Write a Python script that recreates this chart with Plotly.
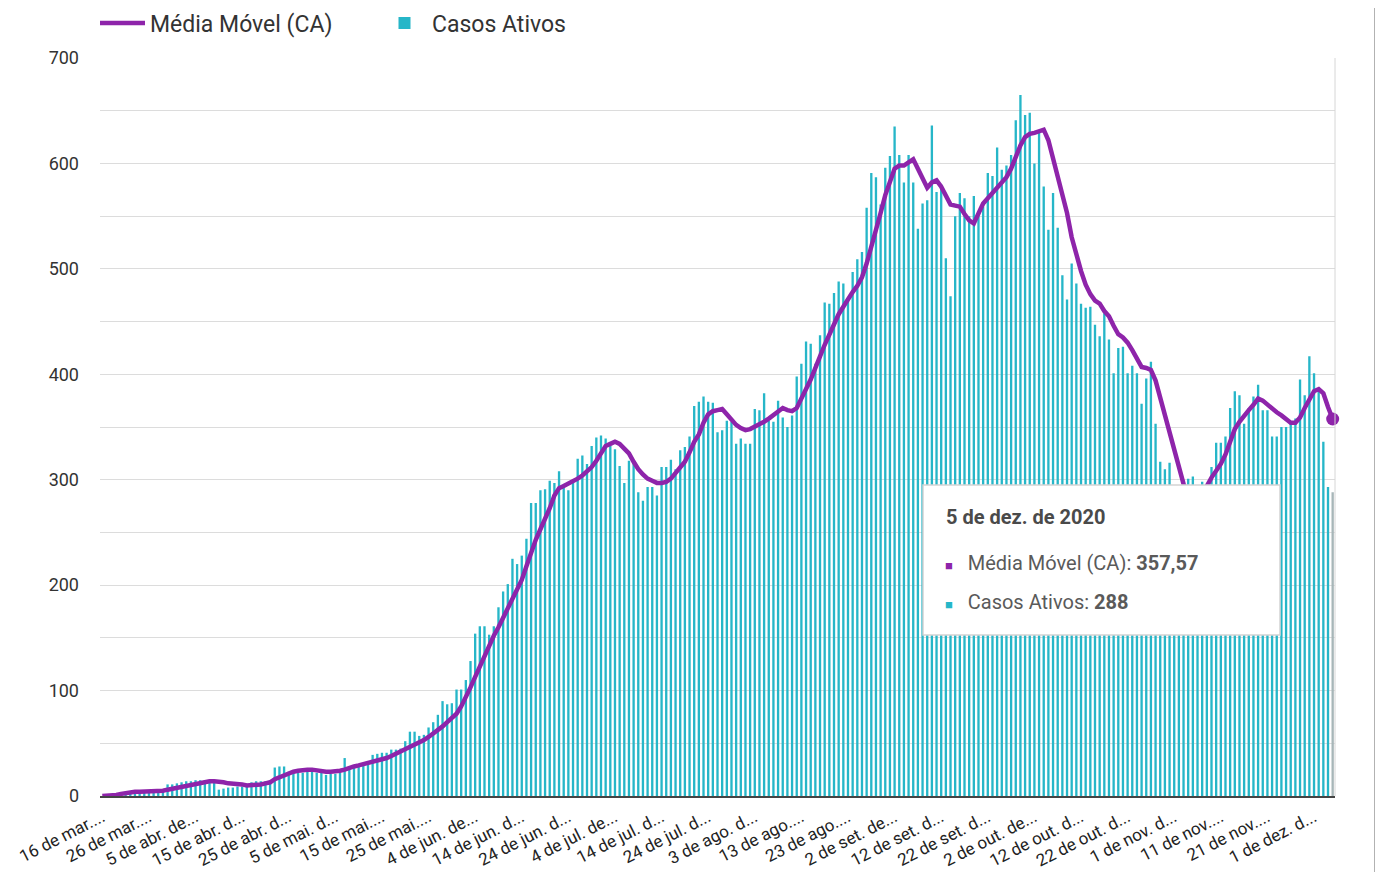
import pandas as pd
import plotly.graph_objects as go

# ---------------- data ----------------
casos_ativos = [
    0, 0, 0, 0, 2,
    4, 4, 5, 5, 5, 5, 5, 6, 6,
    11, 11, 12, 13, 14,
    14, 15, 15, 15, 15, 14,
    6,
    7, 8, 8, 9, 9, 10,
    13, 14, 14, 14, 15,
    27, 28, 28,
    23, 23, 22, 22, 23, 23, 22, 22,
    20, 21, 21, 22,
    36,
    28, 28, 29, 30, 31,
    39, 40, 41, 41,
    44, 44, 45,
    52,
    61, 61,
    57, 58,
    65, 70, 77, 90, 87, 88, 101, 101, 110, 128,
    154, 161, 161, 153, 161, 179, 194, 201, 225, 220,
    228, 244, 278, 278, 290, 291, 299, 297, 308, 296,
    290, 299, 320, 323, 315, 332, 340, 342, 339, 332,
    329, 313, 297, 318, 318, 288, 280, 293, 293, 285,
    312, 312, 319, 310, 328, 331, 341, 370, 374, 379,
    374, 373, 345, 347, 356, 355, 334, 339, 334, 334,
    367, 366, 382, 356, 355, 375, 359, 350, 361, 398,
    410, 431, 429, 410, 437, 468, 467, 477, 488, 486,
    471, 497, 509, 516, 558, 591, 587, 561, 596, 607,
    635, 608, 582, 608, 582, 538, 562, 565, 636, 573,
    580, 510, 474, 550, 572, 567, 550, 569, 550, 559,
    591, 588, 615, 594, 598, 608, 641, 665, 646, 648,
    600, 629, 578, 537, 572, 539, 494, 471, 505, 486,
    467, 463, 464, 447, 436, 458, 433, 401, 425, 426,
    401, 408, 401, 372, 396, 412, 353, 317, 310, 316,
    290, 280, 275, 301, 303, 280, 298, 290, 312, 335,
    335, 341, 368, 384, 380, 353, 368, 379, 390, 366,
    366, 341, 341, 350, 350, 353, 358, 395, 380, 417,
    401, 385, 336, 293, 288,
]

media_movel = [
    0, 0, 0, 1, 2,
    3, 3, 4, 4, 4, 4, 5, 5, 5,
    6, 7, 8, 9, 10, 11, 12,
    13, 14, 14, 14, 14,
    13, 12, 12, 11, 11, 10,
    10, 11, 11, 12, 13,
    16, 18, 20, 22, 23, 24, 25, 25,
    25, 24, 24, 23, 23, 23, 24,
    25, 27, 28, 29, 30, 32,
    33, 34, 35, 36, 38, 40, 42,
    44, 46, 48,
    50, 53,
    56, 59, 62, 66, 70, 74, 78, 85, 93, 103,
    113, 123, 133, 143, 152, 160, 169, 178, 187, 196,
    205, 218, 231, 243, 253, 262, 273, 285, 292, 294,
    296, 298, 301, 304, 308, 312, 318, 326, 332, 334,
    336, 334, 330, 325, 317, 310, 305, 301, 299, 297,
    297, 298, 301, 306, 311, 317, 326, 336, 343, 354,
    362, 365, 366, 367, 362, 357, 352, 349, 347, 348,
    350, 352, 355, 358, 361, 365, 368, 366, 365, 368,
    376, 386, 395, 405, 417, 428, 438, 447, 457, 464,
    472, 478, 484, 492, 505, 520, 535, 553, 570, 583,
    595, 598, 598, 601, 604, 595, 585, 577, 582, 584,
    578, 569, 561, 560, 559, 552, 546, 543, 552, 562,
    567, 572, 577, 582, 587, 595, 606, 617, 625, 628,
    629, 631, 632, 622, 604, 586, 568, 553, 530, 512,
    498, 485, 476, 470, 467, 460, 455, 446, 438, 435,
    430, 423, 415, 407, 406, 404, 394, 378, 362, 347,
    330, 312, 296, 286, 280, 281, 287, 294, 302, 309,
    315, 324, 337, 348, 355, 361, 366, 371, 377, 375,
    371, 368, 364, 361, 357, 354, 354, 359, 368, 377,
    384, 386, 382, 369, 357.57,
]

datas = pd.date_range("2020-03-16", periods=len(casos_ativos), freq="D").strftime("%Y-%m-%d").tolist()

rotulos_x = [
    "16 de mar....", "26 de mar....", "5 de abr. de...", "15 de abr. d...",
    "25 de abr. d...", "5 de mai. d...", "15 de mai....", "25 de mai....",
    "4 de jun. de...", "14 de jun. d...", "24 de jun. d...", "4 de jul. de...",
    "14 de jul. d...", "24 de jul. d...", "3 de ago. d...", "13 de ago....",
    "23 de ago....", "2 de set. de...", "12 de set. d...", "22 de set. d...",
    "2 de out. de...", "12 de out. d...", "22 de out. d...", "1 de nov. d...",
    "11 de nov....", "21 de nov....", "1 de dez. d...",
]
posicoes_rotulos = datas[::10]
data_destacada = "5 de dez. de 2020"

nome_linha = "Média Móvel (CA)"
nome_barras = "Casos Ativos"

# ---------------- styles ----------------
COR_BARRA = "#26b6c8"
COR_BARRA_DESTAQUE = "#a7b6b8"
COR_LINHA = "#8e24aa"
FONTE = "Roboto, Arial, sans-serif"

cores_barras = [COR_BARRA] * (len(casos_ativos) - 1) + [COR_BARRA_DESTAQUE]

fig = go.Figure()
fig.add_trace(go.Bar(
    x=datas, y=casos_ativos, name=nome_barras,
    marker=dict(color=cores_barras, line=dict(width=0)),
    legendrank=2,
))
fig.add_trace(go.Scatter(
    x=datas, y=media_movel, name=nome_linha, mode="lines",
    line=dict(color=COR_LINHA, width=4.5),
    legendrank=1,
))
fig.add_trace(go.Scatter(
    x=[datas[-1]], y=[media_movel[-1]], mode="markers",
    marker=dict(color=COR_LINHA, size=13), showlegend=False,
    cliponaxis=False,
))

# page has an 8px body margin; figure sized so it ends at the window edge
OFF = 8
W, H = 1383 - OFF, 872 - OFF
L, T = 100 - OFF, 58 - OFF
R = W - (1335 - OFF)
B = H - (796 - OFF)
pw, ph = W - L - R, H - T - B


def px(page_x):
    return (page_x - OFF - L) / pw


def py(page_y):
    return (H - B - (page_y - OFF)) / ph


shapes = [
    dict(type="line", xref="paper", yref="paper", x0=1, x1=1, y0=0, y1=1,
         line=dict(color="#d6d6d6", width=1)),
    dict(type="line", xref="paper", yref="paper", x0=px(1376), x1=px(1376),
         y0=py(880), y1=py(0), line=dict(color="#666666", width=3)),
    dict(type="rect", xref="paper", yref="paper", x0=px(923), x1=px(1280),
         y0=py(635), y1=py(485), fillcolor="white",
         line=dict(color="#d4d4d4", width=1.5)),
]

valor_mm = f"{media_movel[-1]:.2f}".replace(".", ",")
valor_ca = f"{casos_ativos[-1]}"

annotations = [
    dict(xref="paper", yref="paper", x=px(944), y=py(517), xanchor="left", yanchor="middle",
         text=f"<b>{data_destacada}</b>", showarrow=False,
         font=dict(family=FONTE, size=20, color="#4a4a4a")),
    dict(xref="paper", yref="paper", x=px(943), y=py(563), xanchor="left", yanchor="middle",
         text=f"<span style='color:{COR_LINHA};font-size:13px'>■</span>   {nome_linha}: <b>{valor_mm}</b>",
         showarrow=False, font=dict(family=FONTE, size=20, color="#5a5a5a")),
    dict(xref="paper", yref="paper", x=px(943), y=py(602), xanchor="left", yanchor="middle",
         text=f"<span style='color:{COR_BARRA};font-size:13px'>■</span>   {nome_barras}: <b>{valor_ca}</b>",
         showarrow=False, font=dict(family=FONTE, size=20, color="#5a5a5a")),
]

fig.update_layout(
    width=W, height=H,
    margin=dict(l=L, r=R, t=T, b=B, pad=0, autoexpand=False),
    paper_bgcolor="white", plot_bgcolor="white",
    font=dict(family=FONTE, color="#333333"),
    bargap=0.5,
    showlegend=True,
    legend=dict(orientation="h", x=px(95), xanchor="left", y=py(23), yanchor="middle",
                font=dict(family=FONTE, size=23, color="#333333"),
                bgcolor="rgba(0,0,0,0)", itemwidth=45,
                entrywidth=222, entrywidthmode="pixels"),
    shapes=shapes,
    annotations=annotations,
)

fig.update_xaxes(
    type="category",
    tickmode="array", tickvals=posicoes_rotulos, ticktext=rotulos_x,
    tickangle=-27, tickfont=dict(family=FONTE, size=17, color="#222222"),
    showgrid=False, showline=True, linecolor="#444444", linewidth=2,
    ticks="", ticklabelstandoff=3,
    range=[-0.5, len(datas) - 0.5],
)
fig.update_yaxes(
    range=[0, 700], dtick=100, tick0=0,
    tickfont=dict(family=FONTE, size=18, color="#333333"),
    showgrid=True, gridcolor="#dcdcdc", gridwidth=1,
    minor=dict(dtick=50, showgrid=True, gridcolor="#dcdcdc", gridwidth=1),
    zeroline=False, showline=False, ticks="", ticklabelstandoff=20,
)

fig.write_html("out.html")
